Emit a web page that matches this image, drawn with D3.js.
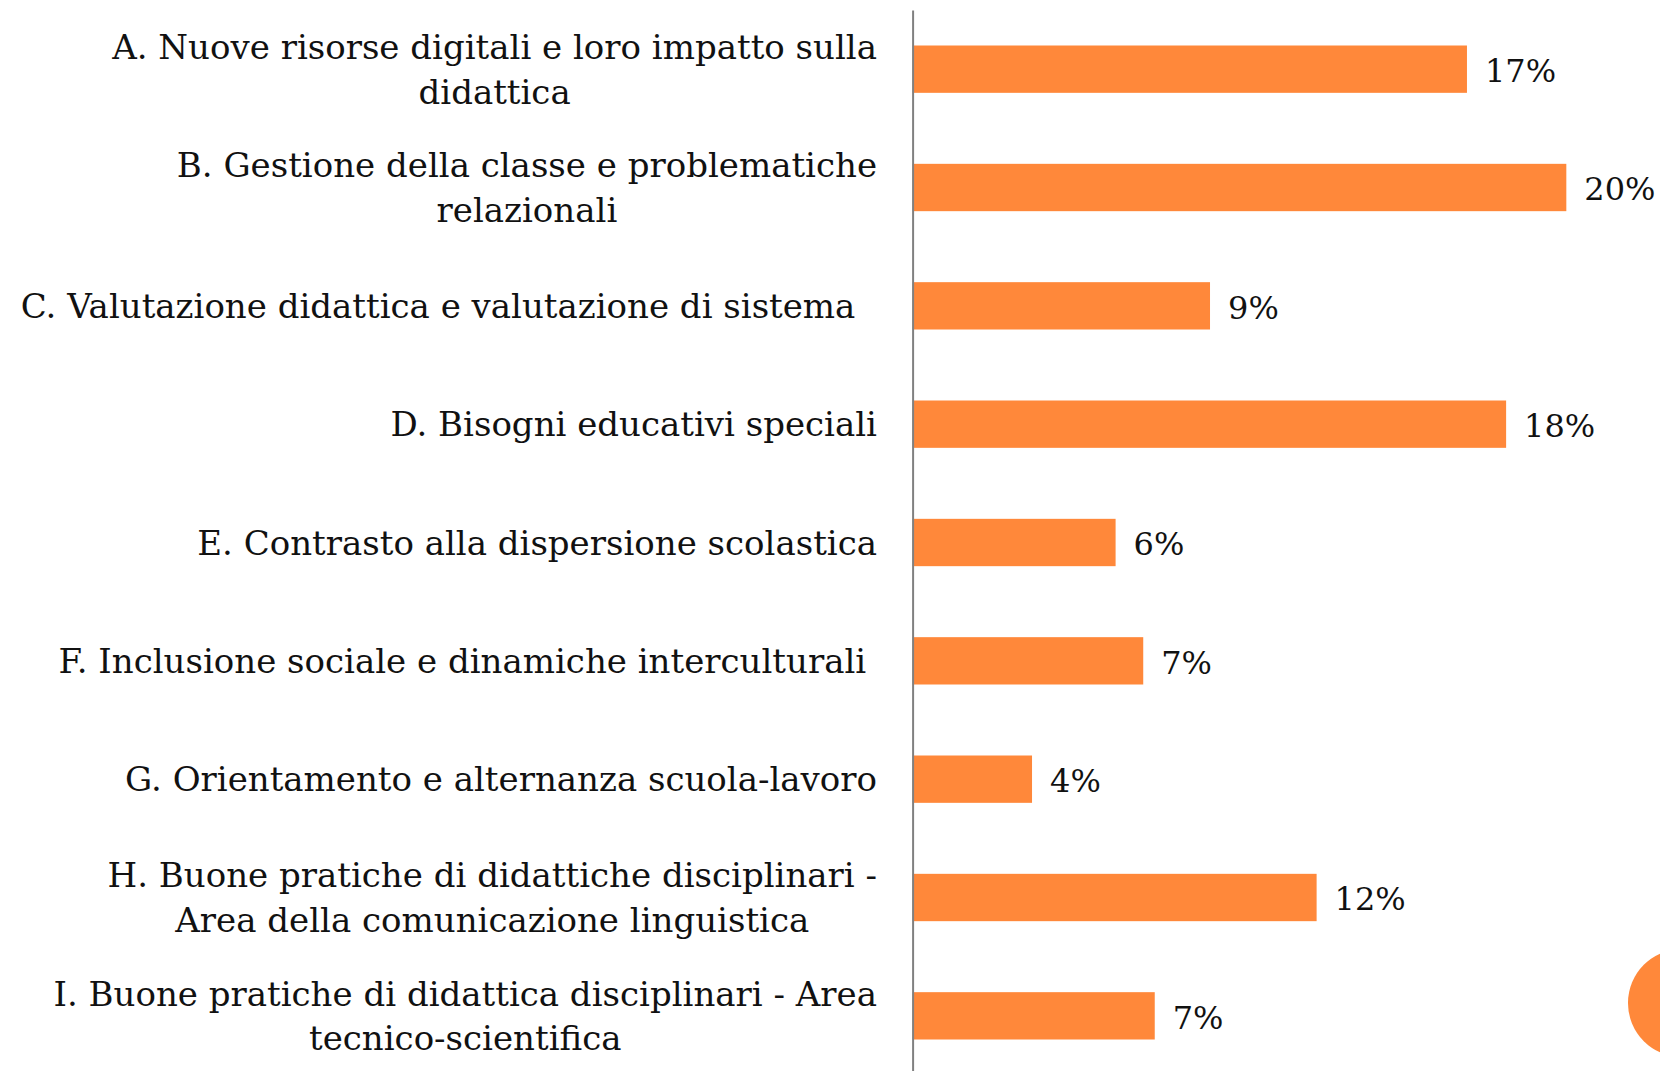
<!DOCTYPE html>
<html>
<head>
<meta charset="utf-8">
<script src="https://cdn.jsdelivr.net/npm/d3@7"></script>
<style>
  html, body { margin: 0; padding: 0; background: #fff; overflow: hidden; }
  svg text { font-family: "DejaVu Serif", serif; fill: #111; }
</style>
</head>
<body>
<svg id="chart"></svg>
<script>
        // Categories (each entry is the list of lines of the label)
        const categories = [
            ['A. Nuove risorse digitali e loro impatto sulla', 'didattica'],
            ['B. Gestione della classe e problematiche', 'relazionali'],
            ['C. Valutazione didattica e valutazione di sistema  '],
            ['D. Bisogni educativi speciali'],
            ['E. Contrasto alla dispersione scolastica'],
            ['F. Inclusione sociale e dinamiche interculturali '],
            ['G. Orientamento e alternanza scuola-lavoro'],
            ['H. Buone pratiche di didattiche disciplinari -', 'Area della comunicazione linguistica'],
            ['I. Buone pratiche di didattica disciplinari - Area', 'tecnico-scientifica']
        ];
        const keys = ['A', 'B', 'C', 'D', 'E', 'F', 'G', 'H', 'I'];
        // Shares (%)
        const values = [16.85, 19.87, 9.04, 18.04, 6.17, 7.01, 3.63, 12.28, 7.36];

        const width = 1660;
        const height = 1071;
        const axisX = 912.6;
        const labelRight = 877;
        const fontSize = 34;
        const valueFontSize = 32;
        const lineGap = 44.5;

        const svg = d3.select('#chart')
            .attr('width', width)
            .attr('height', height);

        const xScale = d3.scaleLinear()
            .domain([0, 20])
            .range([axisX, axisX + 20 * 32.9]);

        const yScale = d3.scaleBand()
            .domain(keys)
            .range([10, 1075])
            .paddingInner(0.6)
            .paddingOuter(0.3);

        // Bars
        svg.selectAll('.bar')
            .data(values)
            .enter()
            .append('rect')
            .attr('class', 'bar')
            .attr('x', xScale(0))
            .attr('y', (d, i) => yScale(keys[i]))
            .attr('width', d => xScale(d) - xScale(0))
            .attr('height', yScale.bandwidth())
            .attr('fill', '#FF883A');

        // Vertical axis line
        svg.append('g')
            .attr('class', 'axis-y')
            .attr('transform', `translate(${axisX},0)`)
            .call(d3.axisLeft(yScale).tickSize(0).tickFormat(''))
            .call(g => g.select('.domain').attr('stroke', '#808080').attr('stroke-width', 2));

        // Value labels
        svg.selectAll('.value')
            .data(values)
            .enter()
            .append('text')
            .attr('class', 'value')
            .attr('x', d => xScale(d) + 18)
            .attr('y', (d, i) => yScale(keys[i]) + yScale.bandwidth() / 2)
            .attr('dy', '0.4em')
            .attr('font-size', valueFontSize)
            .text(d => Math.round(d) + '%');

        // Category labels: lines centred on each other, block right-aligned
        categories.forEach((lines, i) => {
            const cy = yScale(keys[i]) + yScale.bandwidth() / 2;
            const g = svg.append('g').attr('class', 'cat');
            const texts = lines.map((line, j) => g.append('text')
                .attr('xml:space', 'preserve')
                .attr('font-size', fontSize)
                .attr('text-anchor', 'middle')
                .attr('y', cy + (j - (lines.length - 1) / 2) * lineGap)
                .attr('dy', '0.36em')
                .text(line));
            const w = d3.max(texts, t => t.node().getComputedTextLength());
            texts.forEach(t => t.attr('x', labelRight - w / 2));
        });

        // Decorative circle at the right edge
        svg.append('circle')
            .attr('cx', 1682)
            .attr('cy', 1003)
            .attr('r', 54)
            .attr('fill', '#FF883A');
</script>
</body>
</html>
